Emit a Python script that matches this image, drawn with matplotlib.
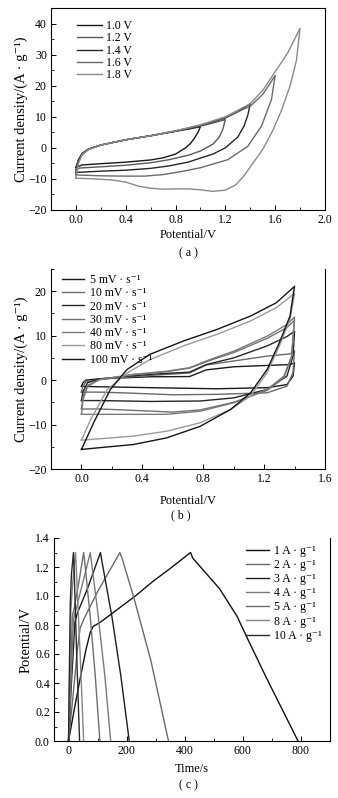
import matplotlib
matplotlib.use('Agg')
import matplotlib.pyplot as plt
from matplotlib.ticker import MultipleLocator, FormatStrFormatter

plt.rcParams['font.family'] = ['Liberation Serif', 'DejaVu Serif']
plt.rcParams['mathtext.fontset'] = 'stix'
plt.rcParams['font.size'] = 8

# ---- (a) CV curves at different voltage windows ----
win_labels = ['1.0 V', '1.2 V', '1.4 V', '1.6 V', '1.8 V']
win_colors = ['#1a1a1a', '#5a5a5a', '#262626', '#6a6a6a', '#8a8a8a']

a_up_x = [
    [0, 0.02, 0.05, 0.1, 0.2, 0.4, 0.6, 0.8, 0.9, 1.0],
    [0, 0.02, 0.05, 0.1, 0.2, 0.4, 0.6, 0.8, 1.0, 1.1, 1.2],
    [0, 0.02, 0.05, 0.1, 0.2, 0.4, 0.6, 0.8, 1.0, 1.2, 1.3, 1.4],
    [0, 0.02, 0.05, 0.1, 0.2, 0.4, 0.6, 0.8, 1.0, 1.2, 1.4, 1.5, 1.6],
    [0, 0.02, 0.05, 0.1, 0.2, 0.4, 0.6, 0.8, 1.0, 1.2, 1.4, 1.5, 1.6, 1.7, 1.8],
]
a_up_y = [
    [-6.3, -3.8, -1.8, -0.4, 0.9, 2.6, 3.9, 5.3, 6.0, 6.8],
    [-7.0, -4.0, -1.9, -0.4, 0.9, 2.6, 3.9, 5.4, 7.0, 8.0, 9.1],
    [-8.0, -4.3, -2.0, -0.5, 0.9, 2.6, 3.9, 5.4, 7.2, 9.6, 11.6, 14.2],
    [-8.7, -4.6, -2.1, -0.5, 0.9, 2.6, 3.9, 5.4, 7.3, 9.8, 13.4, 17.2, 23.3],
    [-9.8, -5.0, -2.3, -0.6, 0.9, 2.6, 3.9, 5.5, 7.4, 10.0, 14.2, 18.5, 24.5, 30.5, 38.5],
]
a_down_x = [
    [1.0, 0.98, 0.95, 0.92, 0.88, 0.8, 0.7, 0.6, 0.4, 0.2, 0.05, 0],
    [1.2, 1.18, 1.15, 1.1, 1.0, 0.9, 0.75, 0.6, 0.4, 0.2, 0.03, 0],
    [1.4, 1.38, 1.35, 1.3, 1.2, 1.1, 0.9, 0.75, 0.6, 0.4, 0.2, 0.01, 0],
    [1.6, 1.57, 1.49, 1.38, 1.22, 1.0, 0.85, 0.7, 0.55, 0.4, 0.2, 0.05, 0],
    [1.8, 1.77, 1.72, 1.65, 1.58, 1.5, 1.42, 1.35, 1.28, 1.2, 1.1, 1.0, 0.9,
     0.8, 0.7, 0.6, 0.5, 0.4, 0.3, 0.2, 0.1, 0],
]
a_down_y = [
    [6.8, 5.0, 3.0, 1.4, 0.0, -2.0, -3.2, -3.9, -4.6, -5.1, -5.5, -6.3],
    [9.1, 6.0, 3.4, 1.2, -1.0, -2.4, -3.8, -4.8, -5.6, -6.1, -6.5, -7.0],
    [14.2, 10.5, 7.0, 3.5, 0.0, -2.0, -4.6, -5.8, -6.6, -7.2, -7.5, -7.9, -8.0],
    [23.3, 15.5, 7.0, 0.5, -3.8, -6.4, -7.6, -8.6, -9.1, -9.1, -9.0, -8.8, -8.7],
    [38.5, 28.0, 20.0, 12.0, 5.5, -0.5, -5.0, -9.0, -12.0, -13.6, -14.0, -13.5,
     -13.2, -13.2, -13.3, -13.0, -12.3, -11.0, -10.4, -10.1, -9.9, -9.8],
]

# ---- (b) CV curves at different scan rates ----
rate_labels = ['5 mV · s⁻¹', '10 mV · s⁻¹', '20 mV · s⁻¹', '30 mV · s⁻¹',
               '40 mV · s⁻¹', '80 mV · s⁻¹', '100 mV · s⁻¹']
rate_colors = ['#1a1a1a', '#6a6a6a', '#262626', '#707070', '#7a7a7a', '#9a9a9a', '#151515']

b_up_x = [
    [0, 0.01, 0.03, 0.12, 0.45, 0.71, 0.82, 1.0, 1.22, 1.37, 1.4],
    [0, 0.01, 0.03, 0.12, 0.45, 0.71, 0.82, 1.0, 1.22, 1.37, 1.4],
    [0, 0.01, 0.04, 0.12, 0.45, 0.71, 0.82, 1.0, 1.22, 1.35, 1.4],
    [0, 0.01, 0.04, 0.12, 0.34, 0.56, 0.71, 0.85, 1.0, 1.22, 1.35, 1.4],
    [0, 0.01, 0.04, 0.12, 0.34, 0.56, 0.71, 0.85, 1.0, 1.22, 1.35, 1.4],
    [0, 0.06, 0.17, 0.3, 0.45, 0.67, 0.89, 1.11, 1.28, 1.4],
    [0, 0.08, 0.19, 0.3, 0.45, 0.67, 0.89, 1.11, 1.28, 1.4],
]
b_up_y = [
    [-1.4, -0.6, 0.0, 0.3, 0.75, 0.8, 2.3, 3.0, 3.3, 3.5, 3.9],
    [-2.7, -1.3, -0.4, 0.2, 1.05, 1.6, 3.4, 4.3, 5.4, 5.9, 6.6],
    [-4.6, -2.6, -0.6, 0.3, 1.3, 1.8, 3.5, 5.0, 7.7, 9.8, 11.0],
    [-6.5, -3.8, -1.2, 0.1, 1.2, 1.9, 2.7, 4.5, 6.2, 9.4, 11.8, 13.5],
    [-7.7, -4.5, -1.4, 0.15, 1.3, 2.0, 2.8, 4.7, 6.5, 9.9, 12.5, 14.2],
    [-13.5, -8.9, -2.1, 1.6, 4.6, 7.7, 10.3, 13.3, 16.3, 19.5],
    [-15.6, -9.6, -2.1, 2.4, 5.8, 8.8, 11.4, 14.4, 17.4, 21.1],
]
b_down_x = [
    [1.4, 1.39, 1.35, 1.22, 0.89, 0.45, 0.12, 0],
    [1.4, 1.39, 1.35, 1.22, 0.89, 0.6, 0.3, 0.12, 0],
    [1.4, 1.39, 1.35, 1.22, 1.0, 0.78, 0.45, 0.12, 0],
    [1.4, 1.38, 1.33, 1.22, 1.0, 0.78, 0.6, 0.34, 0.12, 0],
    [1.4, 1.38, 1.33, 1.22, 1.0, 0.78, 0.56, 0.34, 0.12, 0],
    [1.4, 1.37, 1.3, 1.22, 1.11, 0.98, 0.78, 0.56, 0.34, 0.12, 0],
    [1.4, 1.37, 1.3, 1.22, 1.11, 0.98, 0.78, 0.56, 0.34, 0.12, 0],
]
b_down_y = [
    [3.9, 0.9, -1.0, -1.7, -1.95, -1.7, -1.5, -1.4],
    [6.6, 1.7, -1.35, -2.85, -3.2, -3.3, -2.9, -2.7, -2.7],
    [11.0, 5.4, 0.9, -2.1, -4.0, -4.7, -4.8, -4.6, -4.6],
    [13.5, 5.0, 0.6, -2.3, -5.0, -6.7, -7.2, -6.8, -6.5, -6.5],
    [14.2, 5.4, 0.9, -2.1, -5.1, -7.0, -7.7, -7.7, -7.7, -7.7],
    [19.5, 13.7, 7.7, 1.7, -3.6, -6.6, -9.6, -11.5, -12.6, -13.2, -13.5],
    [21.1, 14.4, 8.4, 2.4, -2.9, -6.6, -10.4, -13.0, -14.5, -15.2, -15.6],
]

# ---- (c) galvanostatic charge/discharge ----
cur_labels = ['1 A · g⁻¹', '2 A · g⁻¹', '3 A · g⁻¹', '4 A · g⁻¹',
              '5 A · g⁻¹', '8 A · g⁻¹', '10 A · g⁻¹']
cur_colors = ['#111111', '#6a6a6a', '#1e1e1e', '#7a7a7a', '#6e6e6e', '#858585', '#2a2a2a']

c_t = [
    [0, 20, 40, 60, 75, 85, 110, 170, 230, 290, 350, 420,
     428, 450, 520, 580, 620, 680, 740, 790],
    [0, 15, 30, 40, 55, 100, 140, 177, 186, 226, 284, 344],
    [0, 10, 22, 30, 65, 110, 114, 150, 180, 209],
    [0, 8, 17, 25, 50, 75, 78, 100, 125, 145],
    [0, 6, 13, 20, 36, 52, 55, 75, 92, 108],
    [0, 4, 8, 14, 24, 26, 40, 52],
    [0, 3, 6, 10, 17, 19, 28, 38],
]
c_v = [
    [0, 0.22, 0.43, 0.63, 0.75, 0.79, 0.82, 0.91, 1.0, 1.1, 1.19, 1.30,
     1.26, 1.21, 1.05, 0.86, 0.69, 0.44, 0.2, 0.0],
    [0, 0.3, 0.62, 0.78, 0.85, 1.03, 1.17, 1.30, 1.25, 0.98, 0.55, 0.0],
    [0, 0.4, 0.82, 0.88, 1.05, 1.30, 1.25, 0.85, 0.45, 0.0],
    [0, 0.4, 0.84, 0.9, 1.1, 1.30, 1.25, 0.9, 0.45, 0.0],
    [0, 0.4, 0.86, 0.92, 1.1, 1.30, 1.25, 0.85, 0.45, 0.0],
    [0, 0.45, 0.9, 1.08, 1.30, 1.22, 0.6, 0.0],
    [0, 0.5, 0.95, 1.15, 1.30, 1.2, 0.6, 0.0],
]

fig = plt.figure(figsize=(3.38, 7.98), dpi=100)
axA = fig.add_axes([51/338, 1-210/798, 274/338, 202/798])
axB = fig.add_axes([51/338, 1-469/798, 274/338, 200/798])
axC = fig.add_axes([54/338, 1-741/798, 276/338, 203/798])

for ax in (axA, axB, axC):
    ax.tick_params(which='both', direction='in', top=False, right=False, labelsize=8.5, pad=3)
    ax.tick_params(which='major', length=3.5, width=0.7)
    ax.tick_params(which='minor', length=2, width=0.6)
    for s in ax.spines.values():
        s.set_linewidth(0.8)

# (a)
for i in range(len(win_labels)):
    axA.plot(a_up_x[i] + a_down_x[i], a_up_y[i] + a_down_y[i], color=win_colors[i],
             lw=1.0, label=win_labels[i])
axA.set_xlim(-0.2, 2.0)
axA.set_ylim(-20, 45)
axA.xaxis.set_major_locator(MultipleLocator(0.4))
axA.xaxis.set_minor_locator(MultipleLocator(0.2))
axA.yaxis.set_major_locator(MultipleLocator(10))
axA.yaxis.set_minor_locator(MultipleLocator(5))
axA.set_xlabel('Potential/V', fontsize=9, labelpad=2)
axA.set_ylabel('Current density/(A · g⁻¹)', fontsize=10.5, labelpad=0)
axA.legend(loc='upper left', bbox_to_anchor=(0.075, 0.97), frameon=False, fontsize=8.5,
           handlelength=2.1, handletextpad=0.3, labelspacing=0.03, borderpad=0)

# (b)
for i in range(len(rate_labels)):
    axB.plot(b_up_x[i] + b_down_x[i], b_up_y[i] + b_down_y[i], color=rate_colors[i],
             lw=1.0, label=rate_labels[i])
axB.set_xlim(-0.2, 1.6)
axB.set_ylim(-20, 25)
axB.spines['top'].set_visible(False)
axB.xaxis.set_major_locator(MultipleLocator(0.4))
axB.xaxis.set_minor_locator(MultipleLocator(0.2))
axB.yaxis.set_major_locator(MultipleLocator(10))
axB.yaxis.set_minor_locator(MultipleLocator(5))
axB.set_xlabel('Potential/V', fontsize=9, labelpad=7)
axB.set_ylabel('Current density/(A · g⁻¹)', fontsize=10.5, labelpad=0)
axB.legend(loc='upper left', bbox_to_anchor=(0.02, 1.005), frameon=False, fontsize=8.5,
           handlelength=1.8, handletextpad=0.5, labelspacing=0.11, borderpad=0)

# (c)
for i in range(len(cur_labels)):
    axC.plot(c_t[i], c_v[i], color=cur_colors[i], lw=1.0, label=cur_labels[i])
axC.set_xlim(-50, 900)
axC.set_ylim(0, 1.4)
axC.spines['top'].set_visible(False)
axC.xaxis.set_major_locator(MultipleLocator(200))
axC.xaxis.set_minor_locator(MultipleLocator(100))
axC.yaxis.set_major_locator(MultipleLocator(0.2))
axC.yaxis.set_minor_locator(MultipleLocator(0.1))
axC.yaxis.set_major_formatter(FormatStrFormatter('%.1f'))
axC.set_xlabel('Time/s', fontsize=9, labelpad=4)
axC.set_ylabel('Potential/V', fontsize=10.5, labelpad=2)
axC.legend(loc='upper right', bbox_to_anchor=(0.99, 0.995), frameon=False, fontsize=8.5,
           handlelength=1.9, handletextpad=0.4, labelspacing=0.18, borderpad=0)

fig.text(188/338, 1-253/798, '( a )', ha='center', va='center', fontsize=8.5)
fig.text(181/338, 1-515/798, '( b )', ha='center', va='center', fontsize=8.5)
fig.text(188/338, 1-785/798, '( c )', ha='center', va='center', fontsize=8.5)

fig.savefig('out.png', dpi=100)
